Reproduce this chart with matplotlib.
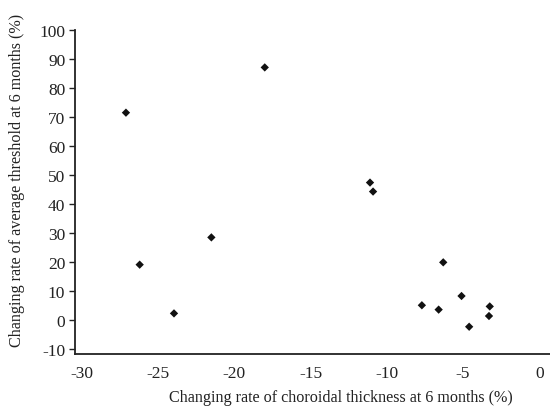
import matplotlib
matplotlib.use("Agg")
import matplotlib.pyplot as plt

plt.rcParams['font.family'] = ['Liberation Serif', 'DejaVu Serif']
plt.rcParams['axes.unicode_minus'] = False

choroidal_change = [-27.1, -18.0, -11.1, -10.9, -26.2, -23.95, -21.5,
                    -6.3, -7.7, -6.6, -5.1, -4.6, -3.25, -3.3]
threshold_change = [71.5, 87.1, 47.4, 44.3, 19.1, 2.3, 28.5,
                    19.9, 5.1, 3.6, 8.3, -2.3, 4.7, 1.4]
x_ticks = [-30, -25, -20, -15, -10, -5, 0]
y_ticks = [-10, 0, 10, 20, 30, 40, 50, 60, 70, 80, 90, 100]

W, H = 550, 410
L, B, T = 75, 355, 31
fig = plt.figure(figsize=(W/100, H/100), dpi=100)
ax = fig.add_axes([L/W, 1 - B/H, 1 - L/W, (B - T)/H])
aw, ah = W - L, B - T

ax.scatter(choroidal_change, threshold_change, marker='D', s=18,
           color='#111111', edgecolors='none', zorder=3)

ax.set_xlim(-30.44, 0.7)
ax.set_ylim(-11.7, 100)
ax.set_xticks(x_ticks)
ax.set_yticks(y_ticks)
ax.tick_params(axis='x', length=0, pad=8, labelsize=12.5, colors='#222222')
ax.tick_params(axis='y', length=4, width=1, direction='out', pad=3,
               labelsize=12.5, colors='#222222')

for side in ['top', 'right']:
    ax.spines[side].set_visible(False)
for side in ['left', 'bottom']:
    ax.spines[side].set_linewidth(1.3)
    ax.spines[side].set_color('#222222')

xl = ax.set_xlabel('Changing rate of choroidal thickness at 6 months (%)',
                   fontsize=11.6, color='#222222')
yl = ax.set_ylabel('Changing rate of average threshold at 6 months (%)',
                   fontsize=11.6, color='#222222')
xl.set_va('center')
yl.set_va('center')
ax.xaxis.set_label_coords((341 - L)/aw, (B - 398)/ah)
ax.yaxis.set_label_coords((17 - L)/aw, (B - 180)/ah)

fig.savefig('out.png', dpi=100)
